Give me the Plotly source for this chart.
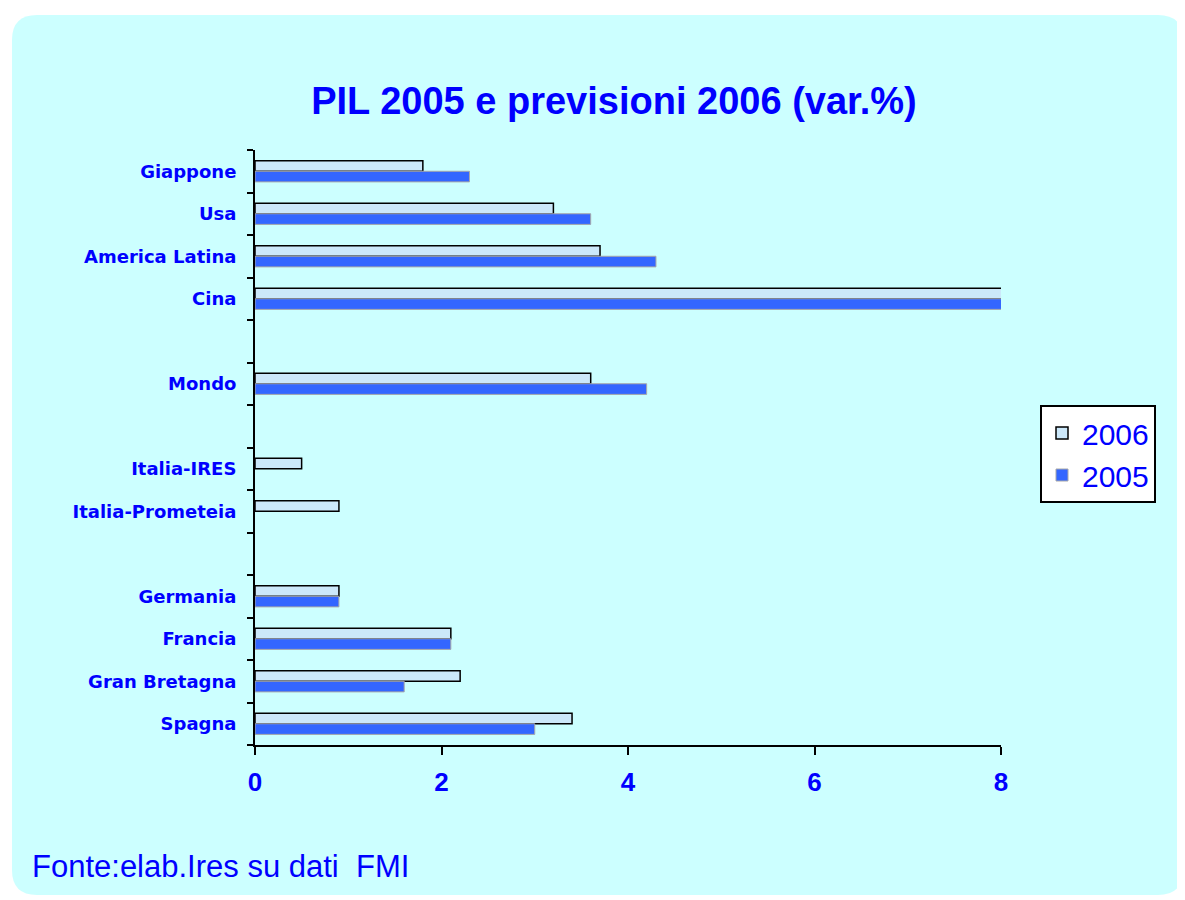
import plotly.graph_objects as go

categories = ["Giappone", "Usa", "America Latina", "Cina", "", "Mondo", "",
              "Italia-IRES", "Italia-Prometeia", "", "Germania", "Francia",
              "Gran Bretagna", "Spagna"]
v2006 = [1.8, 3.2, 3.7, 8.2, None, 3.6, None, 0.5, 0.9, None, 0.9, 2.1, 2.2, 3.4]
v2005 = [2.3, 3.6, 4.3, 9.9, None, 4.2, None, None, None, None, 0.9, 2.1, 1.6, 3.0]
x_ticks = [0, 2, 4, 6, 8]

BLUE = "#0000ff"
BG = "#ccffff"

pos = list(range(len(categories)))
label_pos = [p for p, c in zip(pos, categories) if c]
label_txt = [c for c in categories if c]

fig = go.Figure()
fig.add_trace(go.Bar(y=pos, x=v2006, orientation="h", name="2006",
                     marker=dict(color="#cce8fa", line=dict(color="black", width=1.5))))
fig.add_trace(go.Bar(y=pos, x=v2005, orientation="h", name="2005",
                     marker=dict(color="#3366ff", line=dict(color="#a8a8a8", width=1))))

OFF = 8  # page body margin
W, H = 1185 - OFF, 900 - OFF
# plot area in screen pixels: x 255..1001, y 150..745
L = 255 - OFF
T = 150 - OFF
R = W - (1001 - OFF)
B = H - (745 - OFF)
pw, ph = W - L - R, H - T - B

def px(x):
    return (x - OFF - L) / pw

def py(y):
    return (H - B - (y - OFF)) / ph

# rounded background panel
x0, x1, y0, y1 = px(12), px(1183), py(895), py(15)
rx, ry = 25 / pw, 25 / ph
path = (f"M {x0+rx},{y1} L {x1-rx},{y1} Q {x1},{y1} {x1},{y1-ry} "
        f"L {x1},{y0+ry} Q {x1},{y0} {x1-rx},{y0} L {x0+rx},{y0} "
        f"Q {x0},{y0} {x0},{y0+ry} L {x0},{y1-ry} Q {x0},{y1} {x0+rx},{y1} Z")

fig.update_layout(
    width=W, height=H,
    margin=dict(l=L, r=R, t=T, b=B, pad=0),
    paper_bgcolor="white",
    plot_bgcolor=BG,
    barmode="group", bargap=0.5, bargroupgap=0,
    shapes=[dict(type="path", path=path, xref="paper", yref="paper",
                 fillcolor=BG, line=dict(width=0), layer="below")],
    title=dict(text="<b>PIL 2005 e previsioni 2006 (var.%)</b>",
               font=dict(family="Liberation Sans", size=38, color=BLUE),
               x=px(614), xref="paper", xanchor="center",
               y=1 - (101 - OFF) / H, yref="container", yanchor="middle"),
    legend=dict(x=px(1040), y=py(405), xanchor="left", yanchor="top",
                bgcolor="white", bordercolor="black", borderwidth=2,
                font=dict(family="Liberation Sans", size=30, color=BLUE),
                traceorder="normal", itemwidth=30, tracegroupgap=0),
    annotations=[dict(text="Fonte:elab.Ires su dati  FMI", xref="paper", yref="paper",
                      x=px(30), y=py(866), xanchor="left", yanchor="middle",
                      showarrow=False,
                      font=dict(family="Liberation Sans", size=31, color=BLUE))],
    showlegend=True,
)

fig.update_xaxes(range=[0, 8], tickvals=x_ticks, ticktext=[str(t) for t in x_ticks],
                 ticks="outside", ticklen=8, tickwidth=2, tickcolor="black",
                 showline=True, linecolor="black", linewidth=2,
                 showgrid=False, zeroline=False,
                 tickfont=dict(family="Liberation Sans", size=26, color=BLUE, weight="bold"),
                 ticklabelstandoff=5)
fig.update_yaxes(range=[len(categories) - 0.5, -0.5], tickvals=label_pos, ticktext=label_txt,
                 ticks="", showline=True, linecolor="black", linewidth=2,
                 showgrid=False, zeroline=False,
                 minor=dict(tickvals=[p - 0.5 for p in pos] + [len(pos) - 0.5],
                            ticks="outside", ticklen=6, tickwidth=2, tickcolor="black",
                            showgrid=False),
                 tickfont=dict(family="DejaVu Sans", size=18, color=BLUE, weight="bold"),
                 ticklabelstandoff=13)

fig.write_html("out.html")
